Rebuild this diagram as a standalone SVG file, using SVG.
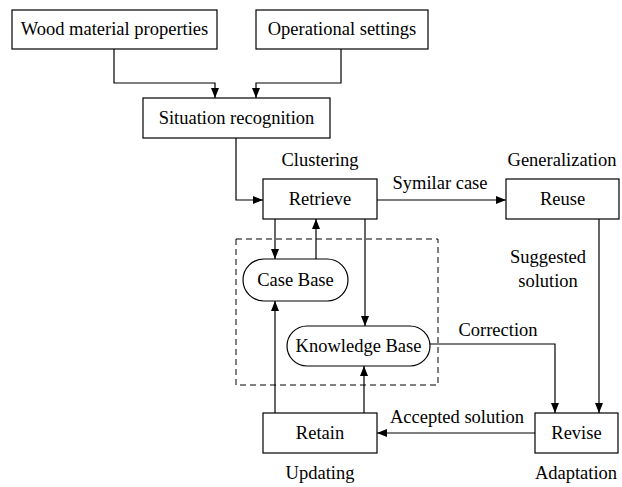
<svg xmlns="http://www.w3.org/2000/svg" width="622" height="487" viewBox="0 0 622 487">
<style>
.box{fill:#fff;stroke:#000;stroke-width:1.2}
.c{fill:none;stroke:#000;stroke-width:1.2}
.d{fill:none;stroke:#000;stroke-width:1;stroke-dasharray:6,4}
</style>
<defs>
<marker id="ah" viewBox="0 0 10 10" refX="10" refY="5" markerWidth="10" markerHeight="10" markerUnits="userSpaceOnUse" orient="auto">
<path d="M0,1 L10,5 L0,9 Z" fill="#000"/>
</marker>
</defs>
<rect fill="#fff" x="0" y="0" width="622" height="487"/>
<rect id="group-box" class="d" x="236" y="239" width="202" height="146"/>
<g id="connectors">
<path class="c" d="M114,49 V83 H215 V98" marker-end="url(#ah)"/>
<path class="c" d="M341,49 V83 H256 V98" marker-end="url(#ah)"/>
<path class="c" d="M236,138 V200 H263" marker-end="url(#ah)"/>
<path class="c" d="M377,200 H506" marker-end="url(#ah)"/>
<path class="c" d="M275,219 V259" marker-end="url(#ah)"/>
<path class="c" d="M316,259 V219" marker-end="url(#ah)"/>
<path class="c" d="M365,219 V326" marker-end="url(#ah)"/>
<path class="c" d="M599,219 V413" marker-end="url(#ah)"/>
<path class="c" d="M430,344 H555 V413" marker-end="url(#ah)"/>
<path class="c" d="M535,433 H377" marker-end="url(#ah)"/>
<path class="c" d="M275,413 V301" marker-end="url(#ah)"/>
<path class="c" d="M364,413 V366" marker-end="url(#ah)"/>
</g>
<g font-family="Liberation Serif, Times New Roman, serif" font-size="18.5" text-anchor="middle" fill="#000">
<g id="wood">
<rect class="box" x="12" y="10" width="205" height="39"/>
<text x="114.5" y="35">Wood material properties</text>
</g>
<g id="operational">
<rect class="box" x="256" y="10" width="172" height="39"/>
<text x="342" y="35">Operational settings</text>
</g>
<g id="situation">
<rect class="box" x="143" y="98" width="187" height="40"/>
<text x="236.5" y="124">Situation recognition</text>
</g>
<g id="retrieve">
<rect class="box" x="263" y="179" width="114" height="40"/>
<text x="320" y="205">Retrieve</text>
<text x="320" y="166">Clustering</text>
</g>
<g id="reuse">
<rect class="box" x="506" y="179" width="113" height="40"/>
<text x="562.5" y="205">Reuse</text>
<text x="562" y="166">Generalization</text>
</g>
<g id="casebase">
<rect class="box" x="243" y="259" width="105" height="42" rx="21"/>
<text x="295.5" y="286">Case Base</text>
</g>
<g id="knowledgebase">
<rect class="box" x="287" y="326" width="143" height="40" rx="20"/>
<text x="358.5" y="352">Knowledge Base</text>
</g>
<g id="retain">
<rect class="box" x="263" y="413" width="114" height="40"/>
<text x="320" y="439">Retain</text>
<text x="320" y="479">Updating</text>
</g>
<g id="revise">
<rect class="box" x="535" y="413" width="83" height="40"/>
<text x="576.5" y="439">Revise</text>
<text x="576" y="479">Adaptation</text>
</g>
<g id="labels">
<text x="440" y="189">Symilar case</text>
<text x="548" y="263">Suggested</text>
<text x="548" y="287">solution</text>
<text x="498" y="336">Correction</text>
<text x="457" y="423">Accepted solution</text>
</g>
</g>
</svg>
